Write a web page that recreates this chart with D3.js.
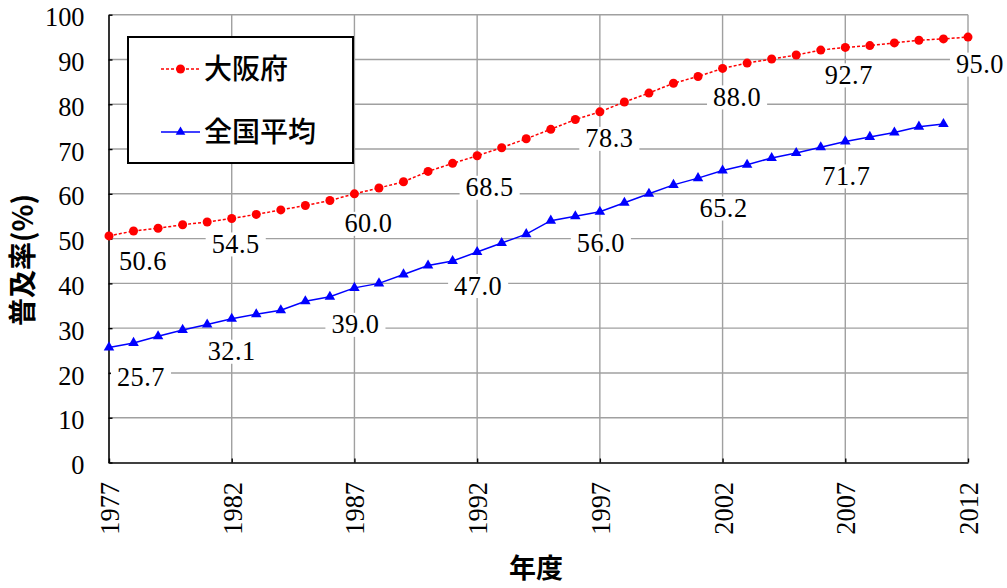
<!DOCTYPE html>
<html>
<head>
<meta charset="utf-8">
<script src="https://cdn.jsdelivr.net/npm/d3@7"></script>
<style>
  html, body { margin: 0; padding: 0; background: #fff; }
  svg { display: block; }
  .serif { font-family: "Liberation Serif", "DejaVu Serif", "Noto Serif", "Noto Serif CJK JP", "Noto Serif JP", "Tinos", "Times New Roman", "Times", "FreeSerif", "Nimbus Roman", serif; }
</style>
</head>
<body>
<svg id="chart" width="1007" height="588"></svg>
<script>
// ---------------- data ----------------
const years = [1977, 1978, 1979, 1980, 1981, 1982, 1983, 1984, 1985, 1986,
               1987, 1988, 1989, 1990, 1991, 1992, 1993, 1994, 1995, 1996,
               1997, 1998, 1999, 2000, 2001, 2002, 2003, 2004, 2005, 2006,
               2007, 2008, 2009, 2010, 2011, 2012];
const osaka = [50.6, 51.7, 52.3, 53.1, 53.7, 54.5, 55.4, 56.4, 57.4, 58.5,
               60.0, 61.3, 62.7, 65.0, 66.8, 68.5, 70.3, 72.3, 74.4, 76.6,
               78.3, 80.5, 82.5, 84.7, 86.2, 88.0, 89.2, 90.1, 91.0, 92.1,
               92.7, 93.1, 93.7, 94.3, 94.6, 95.0];
const nationalYears = [1977, 1978, 1979, 1980, 1981, 1982, 1983, 1984, 1985, 1986,
               1987, 1988, 1989, 1990, 1991, 1992, 1993, 1994, 1995, 1996,
               1997, 1998, 1999, 2000, 2001, 2002, 2003, 2004, 2005, 2006,
               2007, 2008, 2009, 2010, 2011];
const national = [25.7, 26.7, 28.2, 29.6, 30.8, 32.1, 33.1, 34.0, 36.0, 37.0,
               39.0, 40.0, 42.0, 44.0, 45.0, 47.0, 49.0, 51.0, 54.0, 55.0,
               56.0, 58.0, 60.0, 62.0, 63.5, 65.2, 66.5, 68.0, 69.1, 70.4,
               71.7, 72.7, 73.7, 75.0, 75.6];
const seriesNames = ["大阪府", "全国平均"];
const osakaLabelYears = [1977, 1982, 1987, 1992, 1997, 2002, 2007, 2012];
const nationalLabelYears = [1977, 1982, 1987, 1992, 1997, 2002, 2007];
const xTicks = [1977, 1982, 1987, 1992, 1997, 2002, 2007, 2012];
const yTicks = [0, 10, 20, 30, 40, 50, 60, 70, 80, 90, 100];
const xTitle = "年度";
const yTitle = "普及率(%)";

// ---------------- layout (not data) ----------------
const plot = { left: 109, right: 968, top: 14.7, bottom: 462.5 };
// label offsets (text centre relative to the point), in px
const osakaLabelOffset = [[34, 25.5], [4, 26], [14, 30], [12.5, 32], [9.5, 27], [14.5, 29], [3.5, 28], [12, 27.5]];
const nationalLabelOffset = [[32, 30], [0, 33], [1, 37], [1, 34], [1, 32], [1, 38], [1, 35]];

const svg = d3.select("#chart");
const x = d3.scaleLinear().domain([1977, 2012]).range([plot.left, plot.right]);
const y = d3.scaleLinear().domain([0, 100]).range([plot.bottom, plot.top]);

const gridColor = "#a0a0a0";
const red = "#ff0000", blue = "#0000ff";
const cjk = "'Noto Sans CJK JP', 'Noto Sans', sans-serif";

// pick a font size so "100" is about 40 px wide whatever serif face is available
const probe = svg.append("text").attr("class", "serif").style("font-size", "26px").text("100");
const probeW = probe.node().getComputedTextLength() || 39;
probe.remove();
const numSize = Math.max(22, Math.min(27, 26 * 39.5 / probeW));

// gridlines
const grid = svg.append("g");
grid.selectAll("line.h").data(yTicks.filter(d => d > 0)).join("line")
  .attr("x1", plot.left).attr("x2", plot.right)
  .attr("y1", d => y(d)).attr("y2", d => y(d))
  .attr("stroke", gridColor).attr("stroke-width", 1.4);
grid.selectAll("line.v").data(xTicks.filter(d => d > 1977)).join("line")
  .attr("x1", d => x(d)).attr("x2", d => x(d))
  .attr("y1", plot.top).attr("y2", plot.bottom)
  .attr("stroke", gridColor).attr("stroke-width", 1.4);

// axes
const yAxis = d3.axisLeft(y).tickValues(yTicks).tickSizeInner(-4).tickSizeOuter(0).tickPadding(24);
const gy = svg.append("g").attr("transform", `translate(${plot.left - 0.5},0)`).call(yAxis)
  .attr("font-family", null).attr("font-size", null);
gy.select(".domain").attr("stroke", "#000").attr("stroke-width", 1.6);
gy.selectAll(".tick line").attr("stroke", "#000").attr("stroke-width", 1.4);
gy.selectAll(".tick text")
  .attr("class", "serif").style("font-size", numSize + "px").attr("fill", "#000")
  .attr("dy", "0.42em");

const xAxis = d3.axisBottom(x).tickValues(xTicks).tickFormat(d3.format("d")).tickSizeInner(-4).tickSizeOuter(0);
const gx = svg.append("g").attr("transform", `translate(0,${plot.bottom})`).call(xAxis)
  .attr("font-family", null).attr("font-size", null);
gx.select(".domain").attr("stroke", "#000").attr("stroke-width", 1.6);
gx.selectAll(".tick line").attr("stroke", "#000").attr("stroke-width", 1.4);
gx.selectAll(".tick text")
  .attr("class", "serif").style("font-size", numSize + "px").attr("fill", "#000")
  .attr("y", null).attr("dy", null).attr("x", null)
  .attr("text-anchor", "end")
  .attr("transform", "translate(9.5,19.5) rotate(-90)");

// lines
const lineGen = d3.line().x(d => x(d[0])).y(d => y(d[1]));
const osakaPts = years.map((yr, i) => [yr, osaka[i]]);
const natPts = nationalYears.map((yr, i) => [yr, national[i]]);

svg.append("path").datum(osakaPts).attr("d", lineGen)
  .attr("fill", "none").attr("stroke", red).attr("stroke-width", 1.5)
  .attr("stroke-dasharray", "3,2");
svg.append("g").selectAll("circle").data(osakaPts).join("circle")
  .attr("cx", d => x(d[0])).attr("cy", d => y(d[1])).attr("r", 4.5).attr("fill", red);

svg.append("path").datum(natPts).attr("d", lineGen)
  .attr("fill", "none").attr("stroke", blue).attr("stroke-width", 1.5);
const tri = d3.symbol().type(d3.symbolTriangle).size(48);
svg.append("g").selectAll("path").data(natPts).join("path")
  .attr("d", tri).attr("transform", d => `translate(${x(d[0])},${y(d[1])})`).attr("fill", blue);

// data labels
function drawLabels(labelYears, srcYears, vals, offsets) {
  const g = svg.append("g");
  labelYears.forEach((yr, i) => {
    const v = vals[srcYears.indexOf(yr)];
    const cx = x(yr) + offsets[i][0];
    const cy = y(v) + offsets[i][1];
    const lg = g.append("g");
    const rect = lg.append("rect").attr("fill", "#fff");
    const t = lg.append("text")
      .attr("class", "serif")
      .attr("x", cx).attr("y", cy + 8.6)
      .attr("text-anchor", "middle")
      .style("font-size", numSize + "px").style("letter-spacing", "0.5px").attr("fill", "#000")
      .text(d3.format(".1f")(v));
    const w = t.node().getComputedTextLength();
    rect.attr("x", cx - w / 2 - 6).attr("y", cy - 12).attr("width", w + 12).attr("height", 24);
  });
}
drawLabels(osakaLabelYears, years, osaka, osakaLabelOffset);
drawLabels(nationalLabelYears, nationalYears, national, nationalLabelOffset);

// legend
const lg = svg.append("g");
lg.append("rect").attr("x", 128).attr("y", 37).attr("width", 225).attr("height", 126)
  .attr("fill", "#fff").attr("stroke", "#000").attr("stroke-width", 2);
const legendRows = [
  { name: seriesNames[0], color: red, dash: "3,2", cy: 69, marker: "circle" },
  { name: seriesNames[1], color: blue, dash: null, cy: 132, marker: "tri" }
];
legendRows.forEach(r => {
  lg.append("line").attr("x1", 161).attr("x2", 200).attr("y1", r.cy).attr("y2", r.cy)
    .attr("stroke", r.color).attr("stroke-width", 1.5).attr("stroke-dasharray", r.dash);
  if (r.marker === "circle") {
    lg.append("circle").attr("cx", 180.5).attr("cy", r.cy).attr("r", 4.5).attr("fill", r.color);
  } else {
    lg.append("path").attr("d", d3.symbol().type(d3.symbolTriangle).size(40)())
      .attr("transform", `translate(180.5,${r.cy})`).attr("fill", r.color);
  }
  lg.append("text").attr("x", 204).attr("y", r.cy + 10)
    .attr("font-family", cjk).attr("font-size", 28).attr("font-weight", 500).attr("fill", "#000")
    .text(r.name);
});

// axis titles
svg.append("text").attr("x", 536).attr("y", 578)
  .attr("text-anchor", "middle").attr("font-family", cjk).attr("font-weight", 700)
  .attr("font-size", 27).attr("fill", "#000").text(xTitle);
svg.append("text").attr("transform", "translate(33,260) rotate(-90)")
  .attr("text-anchor", "middle").attr("font-family", cjk).attr("font-weight", 700)
  .attr("font-size", 28).attr("fill", "#000").text(yTitle);
</script>
</body>
</html>
